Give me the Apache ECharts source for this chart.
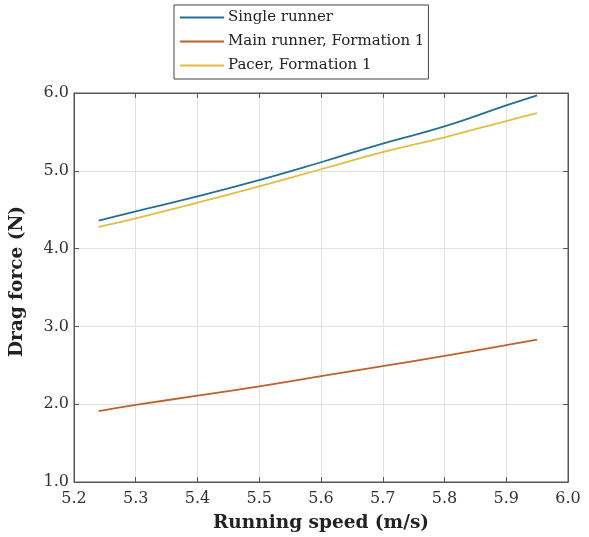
<!DOCTYPE html>
<html><head><meta charset="utf-8">
<script src="https://cdn.jsdelivr.net/npm/echarts@6/dist/echarts.min.js"></script>
<style>html,body{margin:0;padding:0;background:#fff}#c{width:589px;height:537px}</style>
</head><body><div id="c"></div>
<script>
const speeds = [5.24, 5.3, 5.4, 5.5, 5.6, 5.7, 5.8, 5.9, 5.95];
const singleRunner = [4.36, 4.48, 4.67, 4.88, 5.11, 5.35, 5.57, 5.84, 5.97];
const mainRunner = [1.91, 1.99, 2.11, 2.23, 2.36, 2.49, 2.62, 2.76, 2.83];
const pacer = [4.28, 4.39, 4.59, 4.80, 5.02, 5.24, 5.43, 5.64, 5.74];
const seriesNames = ['Single runner', 'Main runner, Formation 1', 'Pacer, Formation 1'];
const xTitle = 'Running speed (m/s)';
const yTitle = 'Drag force (N)';

const font = '"DejaVu Serif", "Liberation Serif", serif';
const colors = ['#25708f', '#c0602c', '#e2bd45'];
const zip = a => speeds.map((s, i) => [s, a[i]]);
const chart = echarts.init(document.getElementById('c'), null, {renderer: 'canvas'});
const axisLine = {show: true, lineStyle: {color: '#555', width: 1}};
const tick = {show: true, inside: true, length: 5, lineStyle: {color: '#555'}};
chart.setOption({
  animation: false,
  backgroundColor: '#fff',
  color: colors,
  legend: {
    orient: 'vertical', left: 174, top: 5,
    data: seriesNames,
    icon: 'rect',
    borderColor: '#444', borderWidth: 1, padding: [5, 4, 6, 6],
    itemWidth: 44, itemHeight: 2, itemGap: 9,
    textStyle: {fontFamily: font, fontSize: 15, color: '#222', lineHeight: 14, height: 14, padding: [0, 0, 0, -1]}
  },
  grid: {left: 74, right: 21, top: 93, bottom: 55, show: true, borderColor: '#555', borderWidth: 1, containLabel: false, outerBoundsMode: 'none'},
  xAxis: [{
    type: 'value', min: 5.2, max: 6.0, interval: 0.1,
    name: xTitle, nameLocation: 'middle', nameGap: 32,
    nameTextStyle: {fontFamily: font, fontSize: 18.5, fontWeight: 'bold', color: '#222'},
    axisLine: axisLine, axisTick: tick,
    axisLabel: {fontFamily: font, fontSize: 16, color: '#333', margin: 9, formatter: v => v.toFixed(1)},
    splitLine: {show: true, lineStyle: {color: '#e2e2e2', width: 1}}
  }, {
    type: 'value', min: 5.2, max: 6.0, interval: 0.1, position: 'top',
    axisLine: axisLine, axisTick: tick,
    axisLabel: {show: false}, splitLine: {show: false}
  }],
  yAxis: [{
    type: 'value', min: 1, max: 6, interval: 1,
    name: yTitle, nameLocation: 'middle', nameGap: 47, nameRotate: 90,
    nameTextStyle: {fontFamily: font, fontSize: 18.5, fontWeight: 'bold', color: '#222', padding: [0, 0, 0, 12]},
    axisLine: axisLine, axisTick: tick,
    axisLabel: {fontFamily: font, fontSize: 16, color: '#333', margin: 5, formatter: v => v.toFixed(1)},
    splitLine: {show: true, lineStyle: {color: '#e2e2e2', width: 1}}
  }, {
    type: 'value', min: 1, max: 6, interval: 1, position: 'right',
    axisLine: axisLine, axisTick: tick,
    axisLabel: {show: false}, splitLine: {show: false}
  }],
  series: [
    {name: seriesNames[0], type: 'line', data: zip(singleRunner), symbol: 'none', smooth: true, lineStyle: {width: 1.8, color: colors[0]}},
    {name: seriesNames[1], type: 'line', data: zip(mainRunner), symbol: 'none', smooth: true, lineStyle: {width: 1.8, color: colors[1]}},
    {name: seriesNames[2], type: 'line', data: zip(pacer), symbol: 'none', smooth: true, lineStyle: {width: 1.8, color: colors[2]}}
  ]
});
</script></body></html>
